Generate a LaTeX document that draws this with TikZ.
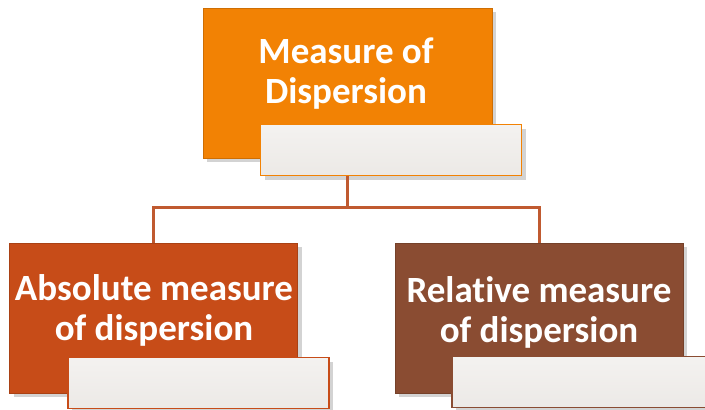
\documentclass[tikz,border=0pt]{standalone}
\usepackage{fontspec}
\setmainfont{Carlito}[Ligatures=NoCommon]
\usetikzlibrary{shadows}
\definecolor{topcol}{RGB}{242,130,4}
\definecolor{abscol}{RGB}{199,76,24}
\definecolor{relcol}{RGB}{138,76,50}
\definecolor{linkcol}{RGB}{192,90,48}
\definecolor{barcol}{RGB}{236,233,230}
\tikzset{
  box/.style={draw=#1!85!black, line width=0.8pt, fill=#1, minimum width=288pt, minimum height=150pt,
    inner sep=0pt, drop shadow={opacity=0.35, shadow xshift=4pt, shadow yshift=-4pt}},
  bar/.style={draw=#1, line width=1.2pt, top color=barcol!60!white, bottom color=barcol, minimum width=261pt,
    minimum height=51pt, inner sep=0pt, drop shadow={opacity=0.35, shadow xshift=4pt, shadow yshift=-4pt}},
  txt/.style={text=white, align=center, font=\bfseries\fontsize{37}{40}\selectfont, inner sep=0pt},
  link/.style={draw=linkcol, line width=3pt}
}
\begin{document}
\begin{tikzpicture}[x=1pt,y=-1pt]
    \useasboundingbox (0,0) rectangle (705,410);
    % top box
    \node[box=topcol, minimum width=289pt](top)at(347.5,83){};
    \node[bar=topcol](topbar)at(391,150){};
    \node[txt](toptxt)at(346,74){Measure of\\Dispersion};
    % lower boxes
    \node[box=abscol](abs)at(153.5,318){};
    \node[bar=abscol](absbar)at(198.5,383){};
    \node[txt](abstxt)at(154,310){Absolute measure\\of dispersion};
    \node[box=relcol](rel)at(539,318){};
    \node[bar=relcol](relbar)at(582.5,382){};
    \node[txt](reltxt)at(539,312){Relative measure\\of dispersion};
    % connectors
    \draw[link](top.center |- topbar.south)--++(0,31)coordinate(fork);
    \draw[link](fork)-|(abs.north);
    \draw[link](fork)-|(rel.north);
\end{tikzpicture}
\end{document}
